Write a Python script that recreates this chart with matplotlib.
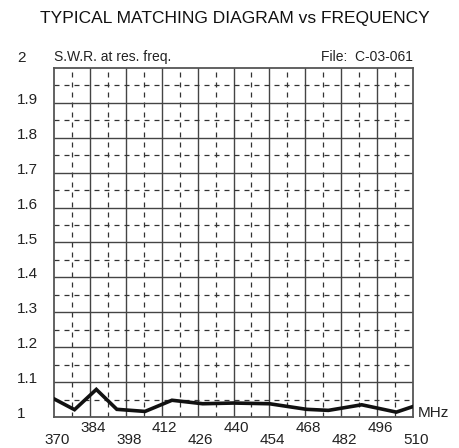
import matplotlib
matplotlib.use("Agg")
import matplotlib.pyplot as plt
import matplotlib.transforms as mtransforms
import numpy as np

# data
freq_mhz = [370, 378, 386.5, 394.5, 405.5, 416, 428, 440, 454, 468.5, 477, 490, 503.5, 510]
swr = [1.052, 1.021, 1.079, 1.022, 1.016, 1.048, 1.038, 1.040, 1.038, 1.022, 1.019, 1.035, 1.014, 1.030]
x_ticks = [370, 384, 398, 412, 426, 440, 454, 468, 482, 496, 510]
y_ticks = [1, 1.1, 1.2, 1.3, 1.4, 1.5, 1.6, 1.7, 1.8, 1.9, 2]
y_labels = ["1", "1.1", "1.2", "1.3", "1.4", "1.5", "1.6", "1.7", "1.8", "1.9", "2"]

plt.rcParams["font.family"] = ["Liberation Sans", "DejaVu Sans"]

fig = plt.figure(figsize=(4.59, 4.48), dpi=100)
ax = fig.add_axes([54 / 459, 31 / 448, 359 / 459, 349 / 448])
ax.set_xlim(370, 510)
ax.set_ylim(1, 2)

# solid major grid, dashed minor grid at midpoints
for xv in x_ticks[1:-1]:
    ax.axvline(xv, color="#444444", lw=1.0, zorder=1)
for xv in np.array(x_ticks[:-1]) + 7:
    ax.axvline(xv, color="#333333", lw=0.9, ls=(0, (4, 4)), zorder=1)
for yv in y_ticks[1:-1]:
    ax.axhline(yv, color="#444444", lw=1.0, zorder=1)
for yv in np.array(y_ticks[:-1]) + 0.05:
    ax.axhline(yv, color="#333333", lw=0.9, ls=(0, (4, 4)), zorder=1)

ax.plot(freq_mhz, swr, color="#111111", lw=2.6, solid_joinstyle="miter", zorder=3)

for s in ax.spines.values():
    s.set_color("#555555")
    s.set_linewidth(1.3)

ax.set_xticks([])
ax.set_yticks([])

# y labels, left aligned, slightly above their gridlines
for yv, lab in zip(y_ticks, y_labels):
    dy = 10 if lab == "2" else 3
    off = mtransforms.offset_copy(ax.get_yaxis_transform(), fig=fig, x=0, y=dy, units="dots")
    ax.text(-37 / 359, yv, lab, transform=off, ha="left", va="center", fontsize=11, color="#222222")

# x labels staggered in two rows
for i, xv in enumerate(x_ticks):
    ypix = -23 if i % 2 == 0 else -11
    off = mtransforms.offset_copy(ax.get_xaxis_transform(), fig=fig, x=3, y=ypix, units="dots")
    ax.text(xv, 0, str(xv), transform=off, ha="center", va="center", fontsize=11, color="#222222")

ax.text(1.013, 4 / 349, "MHz", transform=ax.transAxes, ha="left", va="center", fontsize=11, color="#222222")
ax.text(0.0, 1.012, "S.W.R. at res. freq.", transform=ax.transAxes, ha="left", va="bottom", fontsize=10, color="#222222")
ax.text(1.0, 1.012, "File:  C-03-061", transform=ax.transAxes, ha="right", va="bottom", fontsize=10, color="#222222")

fig.text(235 / 459, 1 - 18 / 448, "TYPICAL MATCHING DIAGRAM vs FREQUENCY", ha="center", va="center",
         fontsize=12.5, color="#111111")

fig.savefig("out.png", dpi=100)
